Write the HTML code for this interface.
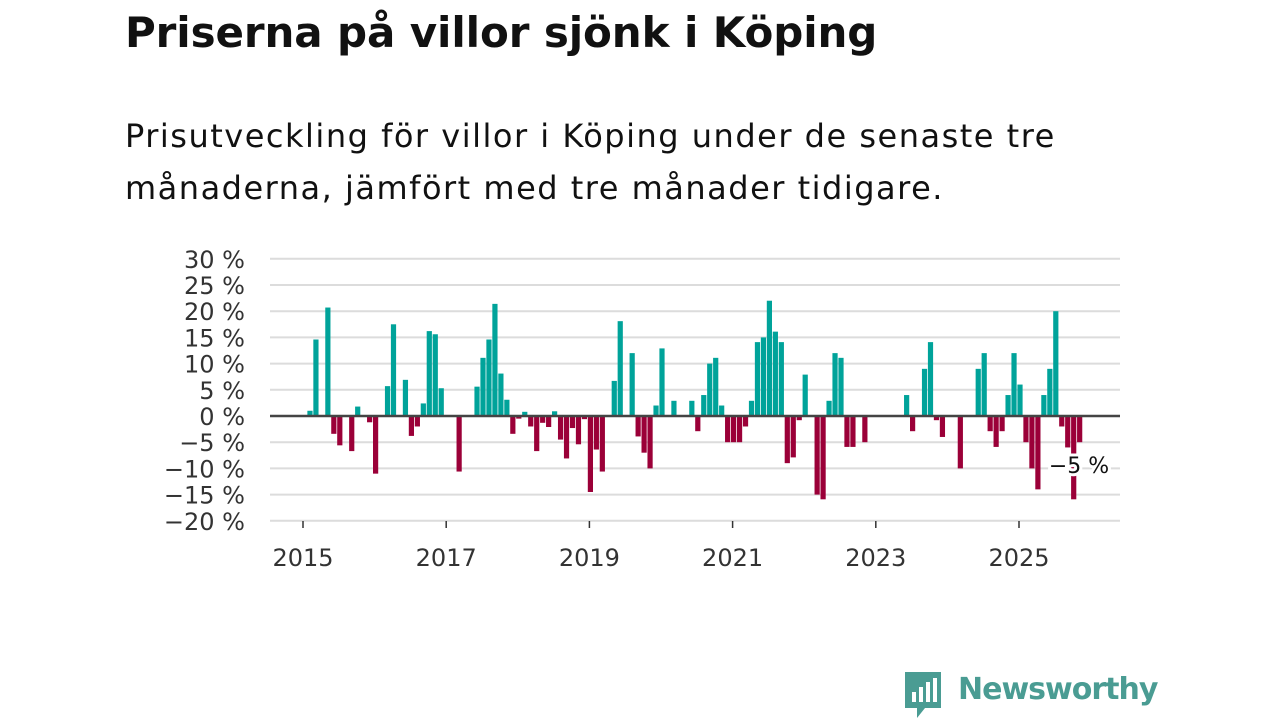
<!DOCTYPE html>
<html><head><meta charset="utf-8"><style>
body{margin:0;width:1280px;height:720px;background:#fff;overflow:hidden;font-family:"Liberation Sans","DejaVu Sans",sans-serif;}
h1{position:absolute;left:125px;top:8px;margin:0;font-size:42px;font-weight:bold;color:#111;font-family:"DejaVu Sans","Liberation Sans",sans-serif;letter-spacing:-0.1px}
.sub{position:absolute;left:125px;top:110px;margin:0;font-size:32px;line-height:52px;color:#111;font-family:"DejaVu Sans","Liberation Sans",sans-serif;font-weight:normal;width:1150px;letter-spacing:1.5px}
svg{position:absolute;left:0;top:0}
</style></head><body>
<h1>Priserna på villor sjönk i Köping</h1>
<div class="sub">Prisutveckling för villor i Köping under de senaste tre<br>månaderna, jämfört med tre månader tidigare.</div>
<svg id="c" width="1280" height="720"></svg>
<script>
const values = {1:1,2:14.6,4:20.7,5:-3.4,6:-5.6,8:-6.7,9:1.8,11:-1.2,12:-11,14:5.7,15:17.5,17:6.9,18:-3.8,19:-2,20:2.4,21:16.2,22:15.6,23:5.3,26:-10.6,29:5.6,30:11.1,31:14.6,32:21.4,33:8.1,34:3.1,35:-3.4,36:-0.5,37:0.8,38:-2,39:-6.7,40:-1.3,41:-2.1,42:0.9,43:-4.5,44:-8.1,45:-2.3,46:-5.4,47:-0.6,48:-14.5,49:-6.4,50:-10.6,52:6.7,53:18.1,55:12,56:-3.9,57:-7,58:-10,59:2,60:12.9,62:2.9,65:2.9,66:-2.9,67:4,68:10,69:11.1,70:2,71:-5,72:-5,73:-5,74:-2,75:2.9,76:14.1,77:15,78:22,79:16.1,80:14.1,81:-9,82:-7.9,83:-0.8,84:7.9,86:-15,87:-15.9,88:2.9,89:12,90:11.1,91:-5.9,92:-5.9,94:-5,101:4,102:-2.9,104:9,105:14.1,106:-0.8,107:-4,110:-10,113:9,114:12,115:-2.9,116:-5.9,117:-2.9,118:4,119:12,120:6,121:-5,122:-10,123:-14,124:4,125:9,126:20,127:-2,128:-6,129:-15.9,130:-5};
const yTicks=[30,25,20,15,10,5,0,-5,-10,-15,-20];
const xYears=[2015,2017,2019,2021,2023,2025];
const lastLabel="−5 %";
const ns="http://www.w3.org/2000/svg";
const svg=document.getElementById('c');
const y=v=>416-v*5.24;
const xt=yr=>303+(yr-2015)*71.6;
const xm=m=>xt(2015+m/12)+1;
function el(t,a){const e=document.createElementNS(ns,t);for(const k in a)e.setAttribute(k,a[k]);svg.appendChild(e);return e;}
yTicks.forEach(v=>{
 if(v!==0){const g=el('line',{x1:270,x2:1120,y1:y(v),y2:y(v),stroke:'#dcdcdc','stroke-width':2});
 
 }
 const t=el('text',{x:245,y:y(v)+9,'text-anchor':'end','font-size':24,fill:'#333','font-family':'DejaVu Sans, Liberation Sans, sans-serif'});
 t.textContent=(v<0?'−'+(-v):v)+' %';
 
 
});
xYears.forEach(yr=>{
 const l=el('line',{x1:xt(yr),x2:xt(yr),y1:521,y2:528,stroke:'#333','stroke-width':1.5});
 
 
 const t=el('text',{x:xt(yr),y:566,'text-anchor':'middle','font-size':24,fill:'#333','font-family':'DejaVu Sans, Liberation Sans, sans-serif'});
 t.textContent=yr;
 
 
});
Object.keys(values).forEach(k=>{
 const m=+k,v=values[k];
 const r=el('rect',{x:xm(m)-2.6,width:5.2,y:Math.min(y(v),y(0)),height:Math.abs(y(v)-y(0)),fill:v>=0?'#00a39a':'#9b0038'});
 
 
});
const z=el('line',{x1:270,x2:1120,y1:y(0),y2:y(0),stroke:'#444','stroke-width':2.5});


const lb=el('text',{x:1079,y:473,'text-anchor':'middle','font-size':22,fill:'#111',stroke:'#fff','stroke-width':6,'paint-order':'stroke','font-family':'DejaVu Sans, Liberation Sans, sans-serif'});
lb.textContent=lastLabel;


</script>
<div style="position:absolute;left:903px;top:670px;height:50px;">
<svg width="40" height="50" style="position:absolute;left:0;top:0">
<path d="M2 2 H38 V38 H22 L14 48 V38 H2 Z" fill="#4a9c93"/>
<rect x="9" y="22" width="4" height="10" fill="#fff"/><rect x="16" y="17" width="4" height="15" fill="#fff"/><rect x="23" y="12" width="4" height="20" fill="#fff"/><rect x="30" y="8" width="4" height="24" fill="#fff"/>
</svg>
<span style="position:absolute;left:55px;top:2px;font-size:30px;font-weight:bold;color:#4a9c93;font-family:'DejaVu Sans','Liberation Sans',sans-serif;white-space:nowrap;letter-spacing:-1px">Newsworthy</span>
</div>
</body></html>
